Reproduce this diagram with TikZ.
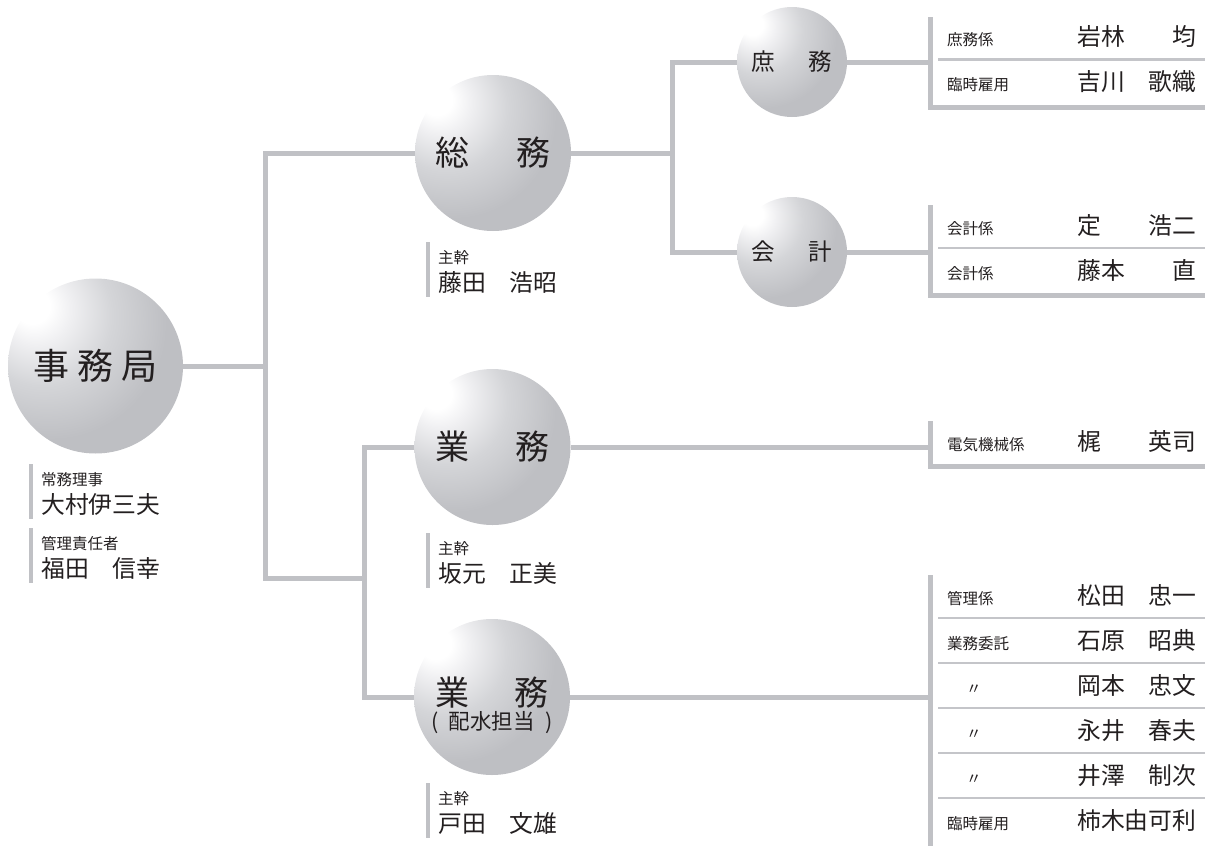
\documentclass[tikz,border=0pt]{standalone}
\usepackage{fontspec}
\setmainfont{Noto Sans CJK JP}
\usetikzlibrary{calc}
\definecolor{lineg}{RGB}{192,193,197}
\definecolor{sepg}{RGB}{196,197,201}
\definecolor{ink}{RGB}{35,31,32}
\definecolor{sphbase}{RGB}{190,191,195}
\definecolor{sphmid}{RGB}{212,213,216}
\definecolor{sphlight}{RGB}{240,240,242}
\pgfdeclareradialshading{sph}{\pgfpoint{-19bp}{18bp}}{color(0bp)=(white); color(5bp)=(white); color(10bp)=(sphlight); color(20bp)=(sphmid); color(33bp)=(sphbase); color(100bp)=(sphbase)}
\tikzset{
  sphere/.style={circle, shading=sph, draw=none, inner sep=0pt, text=ink},
  conn/.style={draw=lineg, line width=5pt},
  barline/.style={draw=lineg, line width=5pt},
  thinbar/.style={draw=lineg, line width=4pt},
  divline/.style={draw=sepg, line width=2.5pt},
  lbltxt/.style={anchor=base west, inner sep=0pt, text=ink, font=\fontsize{15.5}{15.5}\selectfont},
  nametxt/.style={anchor=base west, inner sep=0pt, text=ink, font=\fontsize{23.8}{23.8}\selectfont}
}
\begin{document}
\begin{tikzpicture}[x=1pt, y=-1pt]
\useasboundingbox (0,0) rectangle (1205,846);
% spheres
\node[sphere, minimum size=175pt, font=\fontsize{36}{36}\selectfont] (jim) at (95.5,366) {\hbox to 125pt{事\hfil 務\hfil 局}};
\node[sphere, minimum size=156pt, font=\fontsize{34}{34}\selectfont] (somu) at (493,153) {\hbox to 115pt{総\hfil 務}};
\node[sphere, minimum size=156pt, font=\fontsize{34}{34}\selectfont] (gyomu1) at (492.5,447) {\hbox to 114pt{業\hfil 務}};
\node[sphere, minimum size=156pt,
  label={[inner sep=0pt, yshift=-8pt, text=ink, align=center, font=\fontsize{34}{24}\selectfont]center:{\hbox to 114pt{業\hfil 務}\\{\fontsize{21.5}{21.5}\selectfont\hbox to 121pt{(\hfil 配水担当\hfil )}}}}] (gyomu2) at (492,697) {};
\node[sphere, minimum size=110pt, font=\fontsize{23.5}{23.5}\selectfont] (shomu) at (792,62) {\hbox to 81pt{庶\hfil 務}};
\node[sphere, minimum size=110pt, font=\fontsize{23.5}{23.5}\selectfont] (kaikei) at (792,252) {\hbox to 81pt{会\hfil 計}};
% junction points
\coordinate (jb) at (265,578);
\coordinate (jd) at (364,697);
\coordinate (je) at (672,62);
\coordinate (jf) at (672,252);
\coordinate (b1) at (930.5,17);
\coordinate (b2) at (930.5,205);
\coordinate (b3) at (930.5,421);
\coordinate (b4) at (930.5,575);
% connectors
\draw[conn] (jim.east) -- (jim.east -| jb);
\draw[conn] (somu.west) -| (jb) -- (jb -| jd);
\draw[conn] (gyomu1.west) -| (jd) -- (gyomu2.west);
\draw[conn] (somu.east) -- (somu.east -| je);
\draw[conn] (shomu.west) -| (jf) -- (kaikei.west);
\draw[conn] (shomu.east) -- (shomu.east -| b1);
\draw[conn] (kaikei.east) -- (kaikei.east -| b2);
\draw[conn] (gyomu1.east) -- (gyomu1.east -| b3);
\draw[conn] (gyomu2.east) -- (gyomu2.east -| b4);
% left labels
\draw[thinbar] (31,464) -- (31,519);
\node[lbltxt] (l1) at (41,485) {常務理事};
\node[nametxt] (n1) at (41,513) {大村伊三夫};
\draw[thinbar] (31,528) -- (31,583);
\node[lbltxt] (l2) at (41,549) {管理責任者};
\node[nametxt] (n2) at (41,577) {福田　信幸};
% chief labels
\draw[thinbar] (428,242) -- (428,297);
\node[lbltxt] (l3) at (438,263) {主幹};
\node[nametxt] (n3) at (438,291) {藤田　浩昭};
\draw[thinbar] (428,533) -- (428,588);
\node[lbltxt] (l4) at (438,554) {主幹};
\node[nametxt] (n4) at (438,582) {坂元　正美};
\draw[thinbar] (428,783) -- (428,838);
\node[lbltxt] (l5) at (438,804) {主幹};
\node[nametxt] (n5) at (438,832) {戸田　文雄};
% box 1
\draw[barline] (b1) -- (930.5,107.5) -- (1210,107.5);
\draw[divline] (938,59.5) -- (1210,59.5);
\node[lbltxt] (r1a) at (947,45.5) {庶務係};
\node[nametxt] (r1b) at (1077,45.5) {岩林　　均};
\node[lbltxt] (r2a) at (947,90.5) {臨時雇用};
\node[nametxt] (r2b) at (1077,90.5) {吉川　歌織};
% box 2
\draw[barline] (b2) -- (930.5,295.5) -- (1210,295.5);
\draw[divline] (938,248) -- (1210,248);
\node[lbltxt] (r3a) at (947,234) {会計係};
\node[nametxt] (r3b) at (1077,234) {定　　浩二};
\node[lbltxt] (r4a) at (947,279) {会計係};
\node[nametxt] (r4b) at (1077,279) {藤本　　直};
% box 3
\draw[barline] (b3) -- (930.5,466) -- (1210,466);
\node[lbltxt] (r5a) at (947,450) {電気機械係};
\node[nametxt] (r5b) at (1077,450) {梶　　英司};
% box 4
\draw[barline] (b4) -- (930.5,848) -- (1210,848);
\foreach \yy in {618,663,708,753,798} \draw[divline] (938,\yy) -- (1210,\yy);
\node[lbltxt] (r6a) at (947,604) {管理係};
\node[nametxt] (r6b) at (1077,604) {松田　忠一};
\node[lbltxt] (r7a) at (947,649) {業務委託};
\node[nametxt] (r7b) at (1077,649) {石原　昭典};
\node[lbltxt] (r8a) at (966,694) {〃};
\node[nametxt] (r8b) at (1077,694) {岡本　忠文};
\node[lbltxt] (r9a) at (966,739) {〃};
\node[nametxt] (r9b) at (1077,739) {永井　春夫};
\node[lbltxt] (r10a) at (966,784) {〃};
\node[nametxt] (r10b) at (1077,784) {井澤　制次};
\node[lbltxt] (r11a) at (947,829) {臨時雇用};
\node[nametxt] (r11b) at (1077,829) {柿木由可利};
\end{tikzpicture}
\end{document}
